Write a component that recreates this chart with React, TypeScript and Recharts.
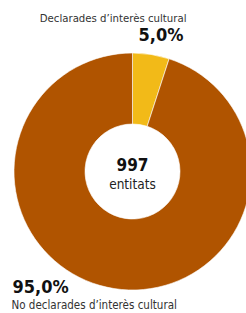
import { PieChart, Pie, Cell } from "recharts";

const CATEGORIES = ["Declarades d’interès cultural", "No declarades d’interès cultural"];
const SHARES = [5.0, 95.0];
const COLORS = ["#f2ba18", "#b05400"];
const TOTAL = 997;
const TOTAL_LABEL = "entitats";

const data = CATEGORIES.map((name, i) => ({ name, value: SHARES[i] }));

const FONT = "'DejaVu Sans Condensed', 'Open Sans', sans-serif";

function fmt(v: number): string {
  return `${v.toFixed(1).replace(".", ",")}%`;
}

function renderLabel(props: any) {
  const { cx, cy, index } = props;
  const d = data[index];
  if (index === 0) {
    return (
      <g>
        <text x={cx + 54} y={cy - 150} textAnchor="end" fontSize={11.3} fill="#333" fontFamily={FONT}>
          {d.name}
        </text>
        <text x={cx + 51} y={cy - 131} textAnchor="end" fontSize={18} fontWeight="bold" fill="#111" fontFamily={FONT}>
          {fmt(d.value)}
        </text>
      </g>
    );
  }
  // bottom label + total in the hole
  return (
    <g>
      <text x={cx - 120} y={cy + 121} textAnchor="start" fontSize={18} fontWeight="bold" fill="#111" fontFamily={FONT}>
        {fmt(d.value)}
      </text>
      <text x={cx - 121} y={cy + 137} textAnchor="start" fontSize={11.5} fill="#333" fontFamily={FONT}>
        {d.name}
      </text>
      <text x={cx} y={cy - 1} textAnchor="middle" fontSize={17} fontWeight="bold" fill="#111" fontFamily={FONT}>
        {TOTAL}
      </text>
      <text x={cx} y={cy + 17.5} textAnchor="middle" fontSize={13.5} fill="#222" fontFamily={FONT}>
        {TOTAL_LABEL}
      </text>
    </g>
  );
}

export default function App() {
  return (
    <div style={{ position: "absolute", left: 0, top: 0, width: 246, height: 313, background: "#fff" }}>
      <PieChart width={246} height={313} margin={{ top: 0, right: 0, bottom: 0, left: 0 }}>
        <Pie
          data={data}
          dataKey="value"
          nameKey="name"
          cx={132.5}
          cy={171.5}
          innerRadius={47.5}
          outerRadius={118.5}
          startAngle={90}
          endAngle={-270}
          stroke="#fff"
          strokeWidth={0.6}
          label={renderLabel}
          labelLine={false}
          isAnimationActive={false}
        >
          {data.map((d, i) => (
            <Cell key={d.name} fill={COLORS[i]} />
          ))}
        </Pie>
      </PieChart>
    </div>
  );
}
